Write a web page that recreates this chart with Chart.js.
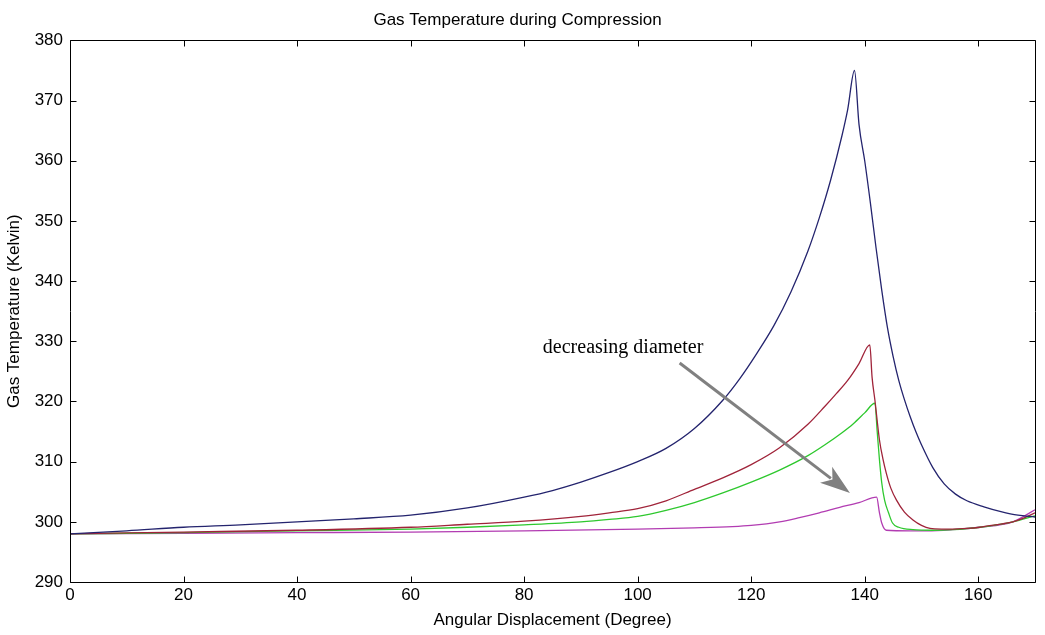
<!DOCTYPE html>
<html>
<head>
<meta charset="utf-8">
<script src="https://cdn.jsdelivr.net/npm/chart.js@4.4.1/dist/chart.umd.min.js"></script>
<style>
  html, body { margin: 0; padding: 0; background: #ffffff; }
  #wrap { width: 1045px; height: 635px; }
</style>
</head>
<body>
<div id="wrap"><canvas id="c" width="1045" height="635"></canvas></div>
<script>
// ---- data (angle in degrees, temperature in K) ----
const blueAngle = [0, 10, 20, 30, 40, 50, 60, 70, 80, 85, 90, 95, 100, 105, 110, 115, 118, 121, 124, 127, 130, 132, 134, 136, 137, 138.2,
                   139, 140, 141, 142, 143, 144, 145, 146, 147, 148, 149, 150, 152, 154, 156, 158, 161, 164, 167, 170];
const blueTemp  = [298.0, 298.5, 299.1, 299.5, 300.0, 300.5, 301.1, 302.3, 304.1, 305.2, 306.6, 308.2, 310.0, 312.2, 315.5, 320.2, 323.8, 328.0, 332.6, 338.2, 345.0, 350.5, 356.8, 364.2, 368.5, 375.0,
                   366.0, 360.0, 353.0, 345.5, 338.5, 332.3, 327.5, 323.5, 320.3, 317.5, 315.0, 312.8, 309.0, 306.3, 304.6, 303.5, 302.5, 301.7, 301.1, 300.8];

const redAngle = [0, 20, 40, 60, 70, 80, 90, 95, 100, 105, 110, 115, 120, 125, 130, 133, 135, 137, 139, 140.9,
                  141.3, 141.8, 142.6, 143.2, 143.8, 144.6, 145.6, 147, 148.5, 150, 151.5, 153.5, 155.5, 158, 160.3, 163, 166.1, 168, 170];
const redTemp  = [298.0, 298.3, 298.6, 299.1, 299.6, 300.1, 300.9, 301.5, 302.2, 303.5, 305.4, 307.3, 309.5, 312.3, 316.2, 319.2, 321.3, 323.5, 326.3, 329.4,
                  324.0, 320.2, 313.6, 310.5, 308.1, 305.6, 303.6, 301.6, 300.3, 299.4, 298.9, 298.8, 298.8, 298.9, 299.1, 299.5, 300.0, 300.6, 301.5];

const greenAngle = [0, 20, 40, 60, 70, 80, 90, 95, 100, 105, 110, 115, 120, 125, 130, 133, 136, 138, 140, 141.8,
                    142.2, 142.6, 143, 143.5, 144.2, 144.9, 146, 148.5, 152, 155.5, 160.3, 166.1, 170];
const greenTemp  = [298.0, 298.2, 298.5, 298.8, 299.1, 299.5, 300.0, 300.4, 300.9, 301.9, 303.2, 304.8, 306.6, 308.6, 311.0, 312.8, 314.8, 316.3, 318.1, 319.7,
                    315.0, 310.3, 306.5, 303.6, 301.5, 299.8, 299.1, 298.7, 298.6, 298.7, 299.1, 300.0, 301.0];

const magentaAngle = [0, 20, 40, 60, 80, 100, 110, 116.7, 120, 125, 128.5, 132, 135.6, 139, 142.1,
                      142.6, 143, 143.8, 148, 151, 155.5, 160.3, 166.1, 170];
const magentaTemp  = [298.0, 298.1, 298.2, 298.3, 298.5, 298.8, 299.0, 299.2, 299.4, 300.0, 300.7, 301.5, 302.4, 303.2, 304.1,
                      301.5, 299.8, 298.6, 298.5, 298.5, 298.7, 299.1, 300.0, 302.0];

const xTickValues = [0, 20, 40, 60, 80, 100, 120, 140, 160];
const yTickValues = [290, 300, 310, 320, 330, 340, 350, 360, 370, 380];

const titleText = 'Gas Temperature during Compression';
const xTitleText = 'Angular Displacement (Degree)';
const yTitleText = 'Gas Temperature (Kelvin)';
const noteText = 'decreasing diameter';
// annotation anchors in data units
const notePos = [83.3, 328.1];
const arrowFrom = [107.4, 326.4];
const arrowTo = [137.4, 304.8];

function pts(xs, ys) { return xs.map((x, i) => ({ x: x, y: ys[i] })); }

const axisFont = { family: "'Liberation Sans', Arial, sans-serif", size: 17 };

const boxPlugin = {
  id: 'boxTicks',
  afterDraw(chart) {
    const ctx = chart.ctx, a = chart.chartArea;
    const xs = chart.scales.x, ys = chart.scales.y;
    const L = Math.round(a.left) + 0.5, R = Math.round(a.right) + 0.5;
    const T = Math.round(a.top) + 0.5, B = Math.round(a.bottom) + 0.5;
    ctx.save();
    ctx.strokeStyle = '#000';
    ctx.lineWidth = 1;
    ctx.beginPath();
    ctx.rect(L, T, R - L, B - T);
    const tl = 6;
    xTickValues.forEach(v => {
      const px = Math.round(xs.getPixelForValue(v)) + 0.5;
      ctx.moveTo(px, B); ctx.lineTo(px, B - tl);
      ctx.moveTo(px, T); ctx.lineTo(px, T + tl);
    });
    yTickValues.forEach(v => {
      const py = Math.round(ys.getPixelForValue(v)) + 0.5;
      ctx.moveTo(L, py); ctx.lineTo(L + tl, py);
      ctx.moveTo(R, py); ctx.lineTo(R - tl, py);
    });
    ctx.stroke();
    ctx.restore();
  }
};

const notePlugin = {
  id: 'note',
  afterDatasetsDraw(chart) {
    const ctx = chart.ctx;
    const xs = chart.scales.x, ys = chart.scales.y;
    const x0 = xs.getPixelForValue(arrowFrom[0]), y0 = ys.getPixelForValue(arrowFrom[1]);
    const x1 = xs.getPixelForValue(arrowTo[0]), y1 = ys.getPixelForValue(arrowTo[1]);
    const ang = Math.atan2(y1 - y0, x1 - x0);
    const headLen = 30, headW = 10;
    const bx = x1 - headLen * Math.cos(ang), by = y1 - headLen * Math.sin(ang);
    ctx.save();
    ctx.strokeStyle = '#808080';
    ctx.fillStyle = '#808080';
    ctx.lineWidth = 3;
    ctx.beginPath();
    ctx.moveTo(x0, y0); ctx.lineTo(bx + 6 * Math.cos(ang), by + 6 * Math.sin(ang));
    ctx.stroke();
    ctx.beginPath();
    ctx.moveTo(x1, y1);
    ctx.lineTo(bx + headW * Math.sin(ang), by - headW * Math.cos(ang));
    ctx.lineTo(bx + 8 * Math.cos(ang), by + 8 * Math.sin(ang));
    ctx.lineTo(bx - headW * Math.sin(ang), by + headW * Math.cos(ang));
    ctx.closePath();
    ctx.fill();
    ctx.fillStyle = '#000';
    ctx.font = "20px 'Liberation Serif', 'Times New Roman', serif";
    ctx.textBaseline = 'alphabetic';
    ctx.textAlign = 'left';
    ctx.fillText(noteText, xs.getPixelForValue(notePos[0]), ys.getPixelForValue(notePos[1]));
    ctx.restore();
  }
};

const ds = (label, data, color) => ({
  label: label, data: data, borderColor: color, backgroundColor: color,
  borderWidth: 1.3, pointRadius: 0, fill: false, cubicInterpolationMode: 'monotone'
});

new Chart(document.getElementById('c'), {
  type: 'line',
  data: {
    datasets: [
      ds('D1', pts(blueAngle, blueTemp), '#24246e'),
      ds('D2', pts(redAngle, redTemp), '#a0243a'),
      ds('D3', pts(greenAngle, greenTemp), '#2ec82e'),
      ds('D4', pts(magentaAngle, magentaTemp), '#b23cb2')
    ]
  },
  options: {
    responsive: false,
    devicePixelRatio: 1,
    animation: false,
    layout: { padding: { left: 0, right: 10, top: 0, bottom: 0 } },
    plugins: {
      legend: { display: false },
      tooltip: { enabled: false },
      title: {
        display: true, text: titleText, color: '#000',
        font: { family: axisFont.family, size: 17, weight: 'normal' },
        padding: { top: 10, bottom: 10 }
      }
    },
    scales: {
      x: {
        type: 'linear', min: 0, max: 170,
        afterBuildTicks: s => { s.ticks = xTickValues.map(v => ({ value: v })); },
        afterFit: s => { s.height = 53; },
        ticks: { color: '#000', font: axisFont, padding: 3, maxRotation: 0, autoSkip: false },
        grid: { display: true, drawOnChartArea: false, drawTicks: false },
        border: { display: false },
        title: { display: true, text: xTitleText, color: '#000', font: axisFont, padding: { top: 0, bottom: 4 } }
      },
      y: {
        type: 'linear', min: 290, max: 380,
        afterBuildTicks: s => { s.ticks = yTickValues.map(v => ({ value: v })); },
        afterFit: s => { s.width = 70; },
        ticks: { color: '#000', font: axisFont, padding: 7, autoSkip: false },
        grid: { display: true, drawOnChartArea: false, drawTicks: false },
        border: { display: false },
        title: { display: true, text: yTitleText, color: '#000', font: axisFont, padding: { top: 4, bottom: 0 } }
      }
    }
  },
  plugins: [notePlugin, boxPlugin]
});
</script>
</body>
</html>
